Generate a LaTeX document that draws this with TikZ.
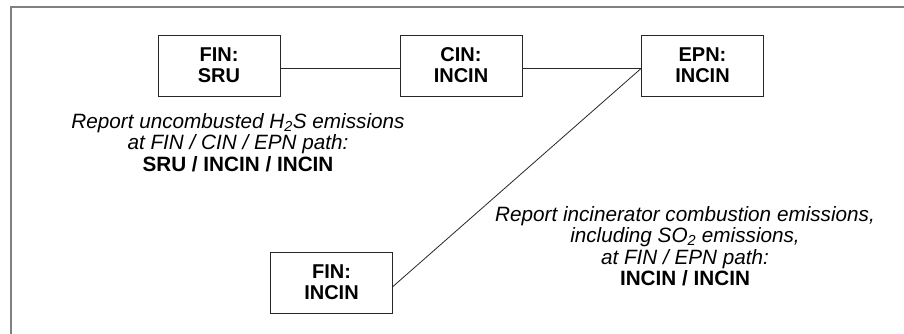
\documentclass[tikz,border=0pt]{standalone}
\usepackage{fontspec}
\setmainfont{Liberation Sans}
\begin{document}
\begin{tikzpicture}[x=1pt,y=-1pt,
  unitbox/.style={draw=black!85, line width=0.9pt, minimum width=122pt,
    minimum height=61pt, align=center, inner sep=0pt,
    font=\fontsize{20}{21}\selectfont\bfseries},
  note/.style={align=center, inner sep=0pt, anchor=north,
    font=\fontsize{20.7}{21.5}\selectfont\itshape},
  link/.style={draw=black!85, line width=0.8pt},
  frame/.style={draw=black!50, line width=2pt}]
\useasboundingbox (0,0) rectangle (904,334);
% outer frame (only top and left sides fall inside the page)
\draw[frame] (11,340) -- (11,7) -- (910,7);
% process units
\node[unitbox] (finsru)   at (219,65.5)  {FIN:\\SRU};
\node[unitbox] (cinincin) at (461,65.5)  {CIN:\\INCIN};
\node[unitbox] (epnincin) at (702.5,65.5) {EPN:\\INCIN};
\node[unitbox] (finincin) at (331.5,282.5) {FIN:\\INCIN};
% connections, attached a little below the box centres
\draw[link] ([yshift=-3pt]finsru.east) -- ([yshift=-3pt]cinincin.west);
\draw[link] ([yshift=-3pt]cinincin.east) -- ([yshift=-3pt]epnincin.west);
\draw[link] ([yshift=-3pt]epnincin.west) -- ([yshift=-4pt]finincin.east);
% reporting notes
\node[note] (noteh2s) at (238,113)
  {Report uncombusted H\textsubscript{2}S emissions\\
   at FIN / CIN / EPN path:\\
   {\upshape\bfseries SRU / INCIN / INCIN}};
\node[note] (noteso2) at (685,206)
  {Report incinerator combustion emissions,\\
   including SO\textsubscript{2} emissions,\\
   at FIN / EPN path:\\
   {\upshape\bfseries INCIN / INCIN}};
\end{tikzpicture}
\end{document}
